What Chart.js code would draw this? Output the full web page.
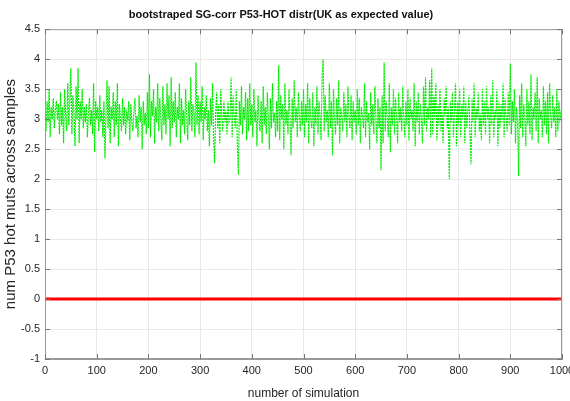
<!DOCTYPE html>
<html>
<head>
<meta charset="utf-8">
<title>bootstraped SG-corr P53-HOT distr</title>
<script src="https://cdn.jsdelivr.net/npm/chart.js@4.4.1/dist/chart.umd.min.js"></script>
<style>
    html, body { margin: 0; padding: 0; background: #fff; }
    #wrap { width: 570px; height: 401px; }
</style>
</head>
<body>
<div id="wrap"><canvas id="simChart" width="570" height="401"></canvas></div>
<script>
// bootstrap values (one every 2 simulations)
const simStep = 2
const simValues = [
    3.1, 2.8, 3.3, 2.95, 3.5, 2.7, 3.2, 3.0, 3.35, 2.85, 3.15, 3.3, 3.0, 3.25, 2.75, 3.45, 2.9, 3.2, 2.6, 3.5, 3.05, 2.8, 3.6, 2.9, 3.3,
    3.85, 2.75, 3.4, 3.1, 2.55, 3.55, 3.0, 3.85, 2.6, 3.3, 3.0, 3.5, 2.85, 3.2, 2.95, 3.25, 2.7, 3.1, 3.35, 2.9, 3.15, 2.75, 3.6, 2.45, 3.3,
    3.0, 3.2, 2.8, 3.4, 2.95, 3.15, 2.7, 3.3, 2.35, 3.1, 3.65, 2.85, 3.55, 2.6, 3.2, 3.0, 3.45, 2.7, 3.3, 2.9, 3.6, 2.55, 3.25, 3.0, 2.8,
    3.35, 2.9, 3.2, 2.75, 3.1, 3.0, 3.3, 2.65, 3.25, 2.95, 2.8, 3.15, 3.35, 2.85, 3.05, 2.7, 3.4, 2.95, 3.2, 2.5, 3.3, 2.9, 3.1, 2.75, 3.45,
    2.85, 3.75, 2.7, 3.3, 3.05, 3.5, 2.6, 3.2, 2.95, 3.6, 2.8, 3.35, 3.0, 2.65, 3.55, 2.9, 3.25, 2.75, 3.6, 3.0, 3.4, 2.55, 3.7, 2.85, 3.3,
    2.95, 3.45, 2.7, 3.2, 3.0, 3.6, 2.6, 3.35, 2.9, 3.15, 2.75, 3.5, 3.05, 2.65, 3.3, 2.9, 3.7, 2.8, 3.25, 3.1, 2.7, 3.95, 2.9, 3.4, 2.75,
    3.3, 2.95, 3.55, 2.65, 3.2, 3.0, 3.4, 2.8, 3.15, 2.55, 3.35, 2.9, 3.6, 2.7, 2.27, 3.1, 3.45, 2.85, 3.25, 2.6, 3.5, 3.0, 2.8, 3.3, 2.95,
    3.15, 2.75, 3.3, 2.95, 3.0, 3.7, 2.7, 3.4, 3.05, 2.85, 3.5, 2.6, 2.07, 3.3, 2.9, 3.55, 2.75, 3.2, 3.0, 3.45, 2.65, 3.35, 2.8, 3.6, 2.9,
    3.25, 2.7, 3.5, 2.95, 3.15, 2.55, 3.4, 3.0, 2.8, 3.3, 2.6, 3.55, 2.9, 3.2, 2.75, 3.45, 3.05, 2.5, 3.35, 2.85, 3.6, 2.95, 3.1, 2.7, 3.3,
    2.8, 3.9, 2.65, 3.4, 3.0, 3.25, 2.5, 3.6, 2.9, 3.15, 2.75, 3.5, 3.0, 2.4, 3.35, 2.85, 3.65, 2.95, 3.2, 2.7, 3.45, 3.05, 2.8, 3.3, 2.9,
    3.5, 2.7, 3.25, 2.95, 3.6, 2.6, 3.35, 3.0, 2.85, 3.45, 2.55, 3.2, 2.9, 3.55, 2.75, 3.3, 3.05, 2.65, 3.7, 4.0, 2.8, 3.4, 2.95, 3.15, 2.7,
    3.6, 2.85, 3.3, 2.4, 3.5, 3.0, 2.75, 3.35, 2.9, 3.65, 2.6, 3.2, 3.05, 2.8, 3.45, 2.95, 3.25, 2.7, 3.55, 3.0, 2.85, 3.4, 2.65, 3.3, 2.95,
    3.15, 2.75, 3.5, 2.9, 3.35, 2.6, 3.2, 3.05, 2.85, 3.6, 2.7, 3.3, 2.95, 3.1, 2.5, 3.45, 2.9, 3.25, 2.75, 3.55, 3.0, 2.6, 3.35, 2.85, 3.2,
    2.15, 3.4, 2.6, 3.95, 2.8, 3.3, 3.0, 2.7, 3.6, 2.45, 3.2, 2.9, 3.5, 2.75, 3.35, 3.05, 2.6, 3.45, 2.95, 3.2, 2.8, 3.55, 3.0, 2.7, 3.3,
    2.9, 3.5, 2.65, 3.35, 3.0, 3.15, 2.8, 3.6, 2.55, 3.3, 2.95, 3.45, 2.75, 3.25, 3.05, 2.6, 3.55, 2.9, 3.7, 2.8, 3.2, 3.0, 3.65, 2.7, 3.85,
    2.75, 3.4, 3.0, 3.6, 2.65, 3.25, 2.9, 3.5, 2.8, 3.15, 2.6, 3.35, 3.05, 3.55, 2.85, 3.2, 2.0, 3.3, 2.95, 3.45, 2.7, 3.1, 3.6, 2.55, 3.3,
    2.9, 3.5, 2.7, 3.25, 3.0, 3.55, 2.6, 3.3, 2.85, 3.15, 3.4, 2.75, 2.25, 3.35, 2.95, 3.6, 2.7, 3.2, 3.0, 3.45, 2.8, 3.1, 2.65, 3.5, 2.9,
    3.3, 2.75, 3.55, 3.0, 3.2, 2.6, 3.4, 2.9, 3.65, 2.7, 3.15, 3.0, 3.5, 2.55, 3.3, 2.85, 3.25, 2.95, 3.6, 2.7, 3.35, 3.05, 2.8, 3.45, 2.9,
    3.93, 2.75, 3.3, 2.95, 3.5, 2.6, 3.2, 3.0, 2.05, 3.4, 2.85, 3.6, 2.7, 3.25, 3.05, 2.55, 3.5, 2.9, 3.3, 2.75, 3.75, 2.65, 3.2, 3.0, 3.45,
    2.8, 3.7, 2.6, 3.35, 3.0, 3.15, 2.7, 3.55, 2.9, 3.3, 2.75, 3.45, 2.6, 3.6, 3.05, 2.85, 3.4, 2.95, 3.2, 2.7, 3.5, 2.8, 3.3, 3.0, 3.1,
    3.0
]
// expected value line (UK)
const expectedX = [0, 1000]
const expectedY = [0, 0]

const xTicks = [0, 100, 200, 300, 400, 500, 600, 700, 800, 900, 1000]
const yTicks = [-1, -0.5, 0, 0.5, 1, 1.5, 2, 2.5, 3, 3.5, 4, 4.5]

const greenPoints = simValues.map((v, i) => ({ x: i * simStep, y: v }))
const redPoints = expectedX.map((x, i) => ({ x: x, y: expectedY[i] }))

const fontFam = "'Liberation Sans', Arial, sans-serif"

// box round the axes, like matlab "box on"
const boxPlugin = {
    id: 'boxPlugin',
    afterDraw(chart) {
        const a = chart.chartArea
        const c = chart.ctx
        c.save()
        c.strokeStyle = '#9a9a9a'
        c.lineWidth = 1
        c.strokeRect(a.left + 0.5, a.top + 0.5, a.right - a.left - 1, a.bottom - a.top - 1)
        // little tick marks inside the box
        c.strokeStyle = '#777'
        yTicks.forEach(t => {
            const y = Math.round(chart.scales.y.getPixelForValue(t)) + 0.5
            c.beginPath(); c.moveTo(a.right - 5, y); c.lineTo(a.right, y); c.stroke()
            c.beginPath(); c.moveTo(a.left, y); c.lineTo(a.left + 5, y); c.stroke()
        })
        xTicks.forEach(t => {
            const x = Math.round(chart.scales.x.getPixelForValue(t)) + 0.5
            c.beginPath(); c.moveTo(x, a.top); c.lineTo(x, a.top + 5); c.stroke()
            c.beginPath(); c.moveTo(x, a.bottom - 5); c.lineTo(x, a.bottom); c.stroke()
        })
        c.restore()
    }
}

const ctx = document.getElementById('simChart')
new Chart(ctx, {
    type: 'line',
    data: {
        datasets: [{
            label: 'bootstrap',
            data: greenPoints,
            borderColor: 'rgb(0, 235, 0)',
            borderWidth: 1.2,
            borderDash: [2, 1],
            pointRadius: 0,
            tension: 0
        }, {
            label: 'expected',
            data: redPoints,
            borderColor: 'rgb(255, 0, 0)',
            borderWidth: 3,
            pointRadius: 0
        }]
    },
    options: {
        responsive: false,
        animation: false,
        devicePixelRatio: 1,
        layout: { padding: { left: 0, right: 8, top: 0, bottom: 0 } },
        plugins: {
            legend: { display: false },
            tooltip: { enabled: false },
            title: {
                display: true,
                text: 'bootstraped SG-corr P53-HOT distr(UK as expected value)',
                color: '#111',
                font: { family: fontFam, size: 11, weight: 'bold' },
                padding: { top: 8, bottom: 8 }
            }
        },
        scales: {
            x: {
                type: 'linear',
                min: 0,
                max: 1000,
                afterBuildTicks: (scale) => { scale.ticks = xTicks.map(v => ({ value: v })) },
                afterFit: (scale) => { scale.height = 42; scale.paddingLeft = 0; scale.paddingRight = 0 },
                ticks: {
                    color: '#262626',
                    font: { family: fontFam, size: 11 },
                    padding: 5,
                    maxRotation: 0,
                    callback: (v) => String(v)
                },
                grid: { color: '#e8e8e8', drawTicks: false },
                border: { color: '#9a9a9a' },
                title: {
                    display: true,
                    text: 'number of simulation',
                    color: '#262626',
                    font: { family: fontFam, size: 12 },
                    padding: { top: 3, bottom: 0 }
                }
            },
            y: {
                type: 'linear',
                min: -1,
                max: 4.5,
                afterBuildTicks: (scale) => { scale.ticks = yTicks.map(v => ({ value: v })) },
                afterFit: (scale) => { scale.width = 45 },
                ticks: {
                    color: '#262626',
                    font: { family: fontFam, size: 11 },
                    padding: 5,
                    callback: (v) => String(v)
                },
                grid: { color: '#e8e8e8', drawTicks: false },
                border: { color: '#9a9a9a' },
                title: {
                    display: true,
                    text: 'num P53 hot muts across samples',
                    color: '#262626',
                    font: { family: fontFam, size: 15 },
                    padding: { top: 2, bottom: 0 }
                }
            }
        }
    },
    plugins: [boxPlugin]
})
</script>
</body>
</html>
